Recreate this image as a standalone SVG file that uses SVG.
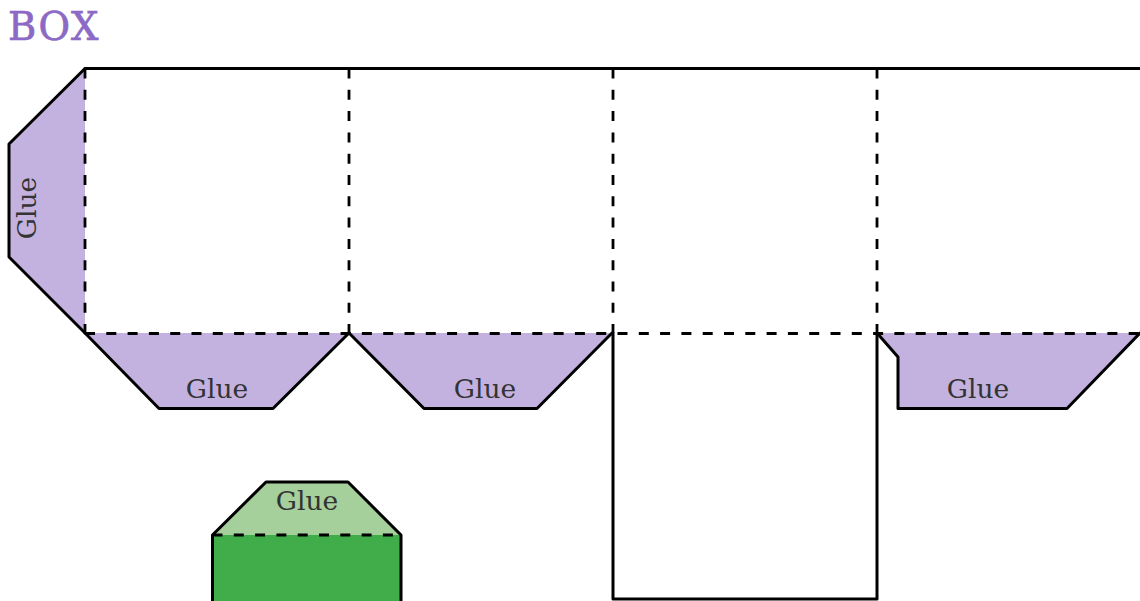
<svg xmlns="http://www.w3.org/2000/svg" width="1140" height="601" viewBox="0 0 1140 601">
<style>
.c{stroke:#000;stroke-width:3;fill:none;stroke-linejoin:round;stroke-linecap:round}
.d{stroke:#000;stroke-width:2.800;fill:none;stroke-dasharray:10 11.300}
.p{fill:#c3b2e0}
.t{font-family:"DejaVu Serif",serif;font-size:26.500px;fill:#333;text-anchor:middle}
</style>
<rect width="1140" height="601" fill="#fff"/>
<text id="title" x="54" y="40" font-family="DejaVu Serif,serif" font-size="38.500" letter-spacing="1.500" stroke="#8b69c5" stroke-width="0.700" fill="#8b69c5" text-anchor="middle">BOX</text>
<g id="tab-left"><polygon class="p" points="85,68.500 9,144 9,257 85,333"/><path class="c" d="M85 68.500L9 144V257L85 333"/><text class="t" transform="translate(36 208) rotate(-90)">Glue</text></g>
<g id="tab-1"><polygon class="p" points="85,333 159,408.500 273,408.500 349,333"/><path class="c" d="M85 333L159 408.500H273L349 333"/><text class="t" x="217" y="398">Glue</text></g>
<g id="tab-2"><polygon class="p" points="349,333 424,408.500 537,408.500 612,333"/><path class="c" d="M349 333L424 408.500H537L612 333"/><text class="t" x="485" y="398">Glue</text></g>
<g id="tab-3"><polygon class="p" points="877,333 898,357 898,408.500 1067,408.500 1140,333"/><path class="c" d="M877 333L898 357V408.500H1067L1140 333"/><text class="t" x="978" y="398">Glue</text></g>
<g id="green"><polygon fill="#a5cf9b" points="212.500,535 266,482 348,482 401,535"/><rect x="212.500" y="535" width="188.500" height="70" fill="#41ac4a"/><path class="c" d="M212.500 603V535L266 482H348L401 535V603"/><text class="t" x="307" y="510">Glue</text></g>
<g id="connectors">
<path class="c" d="M85 68.500H1140"/>
<path class="c" d="M613 333V599H877V333"/>
<path class="d" d="M85 68.500V333M349 68.500V333M613 68.500V333M877 68.500V333"/>
<path class="d" d="M85 333.500H1140"/>
<path class="d" d="M212.500 535H401"/>
</g>
</svg>
